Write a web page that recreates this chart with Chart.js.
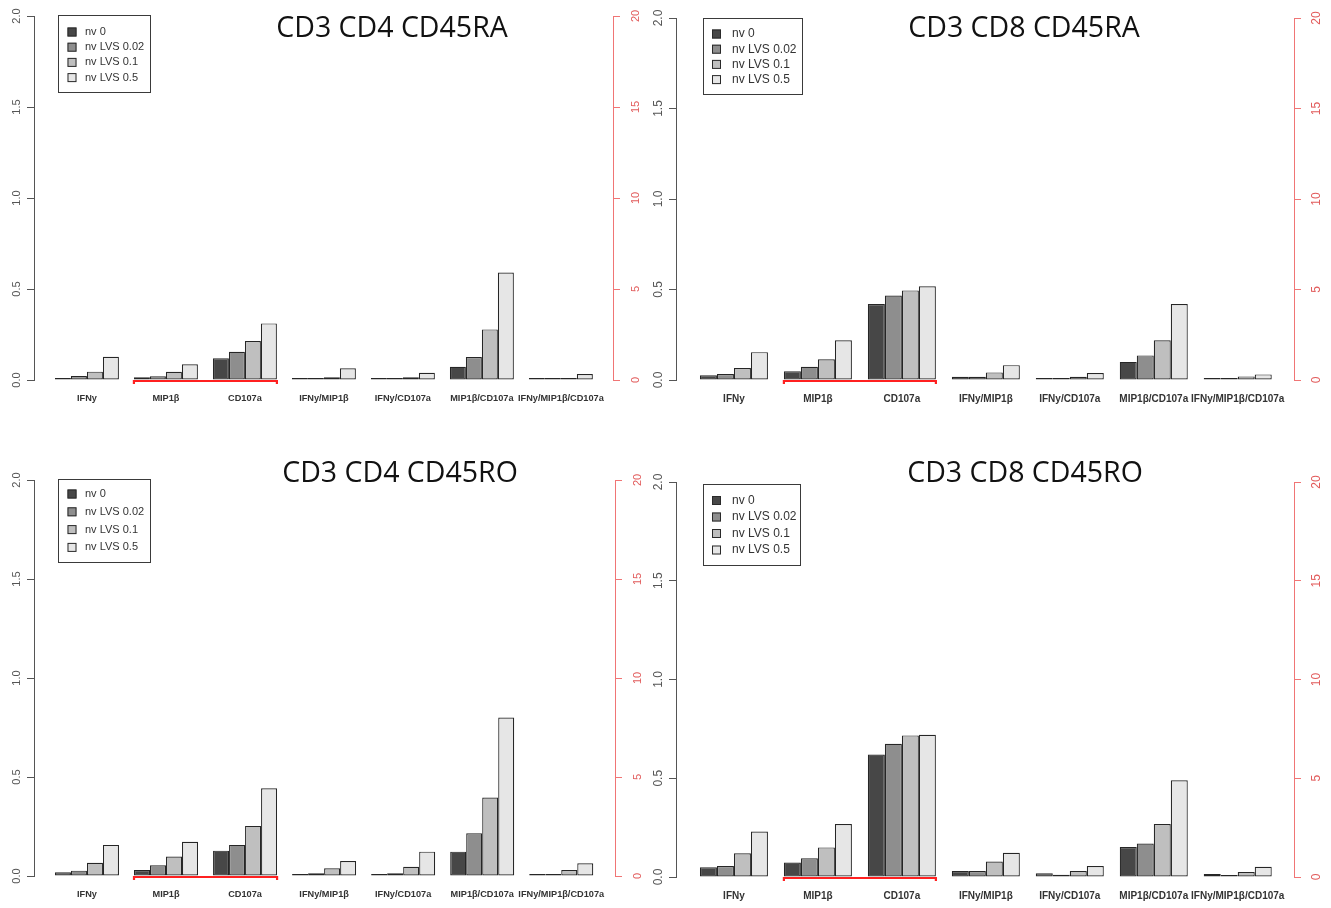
<!DOCTYPE html>
<html>
<head>
<meta charset="utf-8">
<script src="https://cdn.jsdelivr.net/npm/chart.js@4.4.1/dist/chart.umd.min.js"></script>
<style>
  body{margin:0;background:#fff;}
  #wrap{position:relative;width:1331px;height:908px;overflow:hidden;}
  canvas{position:absolute;}
</style>
</head>
<body>
<div id="wrap">
  <canvas id="c1" width="665" height="440" style="left:0;top:0"></canvas>
  <canvas id="c2" width="691" height="440" style="left:640px;top:0"></canvas>
  <canvas id="c3" width="665" height="468" style="left:0;top:440px"></canvas>
  <canvas id="c4" width="691" height="468" style="left:640px;top:440px"></canvas>
</div>
<script>
// categories and series
var categories = ['IFNy','MIP1β','CD107a','IFNy/MIP1β','IFNy/CD107a','MIP1β/CD107a','IFNy/MIP1β/CD107a'];
var seriesNames = ['nv 0','nv LVS 0.02','nv LVS 0.1','nv LVS 0.5'];
var seriesColors = ['#474747','#8e8e8e','#bfbfbf','#e6e6e6'];
var underlined = ['MIP1β','CD107a'];
var leftTicks = [0, 0.5, 1, 1.5, 2];
var rightTicks = [0, 5, 10, 15, 20];

// one row per series (nv 0, nv LVS 0.02, nv LVS 0.1, nv LVS 0.5)
var cd4ra = [
  [0.010, 0.015, 0.119, 0.005, 0.005, 0.073, 0.003],
  [0.022, 0.020, 0.155, 0.008, 0.008, 0.126, 0.003],
  [0.046, 0.045, 0.214, 0.015, 0.015, 0.278, 0.008],
  [0.128, 0.086, 0.311, 0.064, 0.040, 0.590, 0.033]
];
var cd8ra = [
  [0.026, 0.049, 0.420, 0.018, 0.010, 0.100, 0.010],
  [0.033, 0.073, 0.467, 0.018, 0.010, 0.136, 0.003],
  [0.066, 0.114, 0.495, 0.042, 0.018, 0.220, 0.020],
  [0.154, 0.220, 0.518, 0.082, 0.038, 0.420, 0.031]
];
var cd4ro = [
  [0.019, 0.030, 0.128, 0.008, 0.008, 0.123, 0.006],
  [0.027, 0.054, 0.157, 0.014, 0.014, 0.216, 0.006],
  [0.067, 0.098, 0.253, 0.039, 0.047, 0.396, 0.030],
  [0.157, 0.173, 0.443, 0.076, 0.123, 0.800, 0.064]
];
var cd8ro = [
  [0.049, 0.073, 0.620, 0.030, 0.019, 0.152, 0.015],
  [0.056, 0.095, 0.675, 0.030, 0.012, 0.170, 0.008],
  [0.120, 0.150, 0.717, 0.078, 0.030, 0.268, 0.025],
  [0.230, 0.268, 0.720, 0.123, 0.056, 0.490, 0.052]
];

var groupPct = 0.81;

var panels = [
  {id:'c1', title:'CD3 CD4 CD45RA', values:cd4ra, wl:34, wr:52, top:16, hb:60, xmin:-0.67, xmax:6.66,
   titleX:392, titleY:37, font:11, xfont:9.2, legend:{dx:24, dy:-1, w:92, h:77, first:16.5, step:15.2, sq:13.5, tx:27}},
  {id:'c2', title:'CD3 CD8 CD45RA', values:cd8ra, wl:36, wr:37, top:18, hb:60, xmin:-0.69, xmax:6.67,
   titleX:384, titleY:37, font:12, xfont:10, legend:{dx:27, dy:0, w:99, h:76, first:15.5, step:15.2, sq:13, tx:29}},
  {id:'c3', title:'CD3 CD4 CD45RO', values:cd4ro, wl:34, wr:50, top:40, hb:32, xmin:-0.67, xmax:6.68,
   titleX:400, titleY:42, font:11, xfont:9.2, legend:{dx:24, dy:-1, w:92, h:83, first:14.5, step:17.8, sq:13.5, tx:27}},
  {id:'c4', title:'CD3 CD8 CD45RO', values:cd8ro, wl:36, wr:37, top:42, hb:31, xmin:-0.69, xmax:6.67,
   titleX:385, titleY:42, font:12, xfont:10, legend:{dx:27, dy:2, w:97, h:81, first:16, step:16.5, sq:13, tx:29}}
];

// R-like decorations: rotated tick labels, red underline, boxed legend, title
var rStyle = {
  id: 'rStyle',
  afterDatasetsDraw: function(chart, args, o) {
    var ctx = chart.ctx, xs = chart.scales.x, ys = chart.scales.y;
    var half = groupPct / 2;
    var i0 = categories.indexOf(underlined[0]);
    var i1 = categories.indexOf(underlined[underlined.length - 1]);
    var xa = xs.getPixelForValue(i0 - half), xb = xs.getPixelForValue(i1 + half);
    var yb = ys.getPixelForValue(0) + 1;
    ctx.save();
    ctx.strokeStyle = '#ff2020';
    ctx.lineWidth = 2.2;
    ctx.beginPath();
    ctx.moveTo(xa, yb + 3); ctx.lineTo(xa, yb); ctx.lineTo(xb, yb); ctx.lineTo(xb, yb + 3);
    ctx.stroke();
    ctx.restore();
  },
  afterDraw: function(chart, args, o) {
    var ctx = chart.ctx, ca = chart.chartArea;
    var ys = chart.scales.y, y2 = chart.scales.y2;
    ctx.save();
    ctx.font = o.font + 'px "Liberation Sans", Arial, sans-serif';
    ctx.textAlign = 'center';
    ctx.textBaseline = 'middle';
    ctx.fillStyle = '#555';
    leftTicks.forEach(function(v) {
      ctx.save();
      ctx.translate(ca.left - 17, ys.getPixelForValue(v));
      ctx.rotate(-Math.PI / 2);
      ctx.fillText(v.toFixed(1), 0, 0);
      ctx.restore();
    });
    ctx.fillStyle = '#e25b5b';
    rightTicks.forEach(function(v) {
      ctx.save();
      ctx.translate(ca.right + 23, y2.getPixelForValue(v));
      ctx.rotate(-Math.PI / 2);
      ctx.fillText(String(v), 0, 0);
      ctx.restore();
    });

    // legend box
    var L = o.legend, bx = ca.left + L.dx, by = ca.top + L.dy;
    ctx.strokeStyle = '#3a3a3a';
    ctx.lineWidth = 1;
    ctx.strokeRect(bx + 0.5, by + 0.5, L.w, L.h);
    ctx.textAlign = 'left';
    seriesNames.forEach(function(name, i) {
      var cy = by + L.first + i * L.step;
      ctx.fillStyle = seriesColors[i];
      ctx.fillRect(bx + L.sq - 4, cy - 4, 9, 9);
      ctx.strokeStyle = '#2a2a2a';
      ctx.strokeRect(bx + L.sq - 4 + 0.5, cy - 4 + 0.5, 8, 8);
      ctx.fillStyle = '#333';
      ctx.fillText(name, bx + L.tx, cy + 0.5);
    });

    // title
    ctx.font = '28.5px "Open Sans", sans-serif';
    ctx.textAlign = 'center';
    ctx.textBaseline = 'alphabetic';
    ctx.fillStyle = '#111';
    ctx.fillText(o.title, o.titleX, o.titleY);
    ctx.restore();
  }
};

panels.forEach(function(p) {
  var datasets = seriesNames.map(function(name, s) {
    return {
      label: name,
      data: p.values[s].map(function(v, i) { return {x: i, y: v}; }),
      backgroundColor: seriesColors[s],
      borderColor: '#262626',
      borderWidth: 1.2,
      borderSkipped: false,
      minBarLength: 2,
      categoryPercentage: groupPct,
      barPercentage: 1,
      yAxisID: 'y'
    };
  });

  new Chart(document.getElementById(p.id), {
    type: 'bar',
    data: {datasets: datasets},
    plugins: [rStyle],
    options: {
      responsive: false,
      animation: false,
      layout: {padding: {top: p.top, left: 0, right: 0, bottom: 0}},
      plugins: {
        legend: {display: false},
        tooltip: {enabled: false},
        rStyle: {font: p.font, legend: p.legend, title: p.title, titleX: p.titleX, titleY: p.titleY}
      },
      scales: {
        x: {
          type: 'linear',
          min: p.xmin,
          max: p.xmax,
          offset: false,
          grid: {display: false, drawTicks: false},
          border: {display: false},
          afterBuildTicks: function(s) { s.ticks = categories.map(function(c, i) { return {value: i}; }); },
          afterFit: function(s) { s.height = p.hb; },
          ticks: {
            autoSkip: false, maxRotation: 0, minRotation: 0, padding: 13,
            color: '#333',
            font: {family: '"Liberation Sans", Arial, sans-serif', size: p.xfont, weight: 'bold'},
            callback: function(v) { return categories[v]; }
          }
        },
        y: {
          position: 'left',
          min: 0, max: 2,
          ticks: {stepSize: 0.5, display: false},
          grid: {drawOnChartArea: false, drawTicks: true, tickLength: 7, color: '#555'},
          border: {display: true, color: '#555', width: 1},
          afterFit: function(s) { s.width = p.wl; }
        },
        y2: {
          position: 'right',
          min: 0, max: 20,
          ticks: {stepSize: 5, display: false},
          grid: {drawOnChartArea: false, drawTicks: true, tickLength: 7, color: '#f07575'},
          border: {display: true, color: '#f07575', width: 1},
          afterFit: function(s) { s.width = p.wr; }
        }
      }
    }
  });
});
</script>
</body>
</html>
